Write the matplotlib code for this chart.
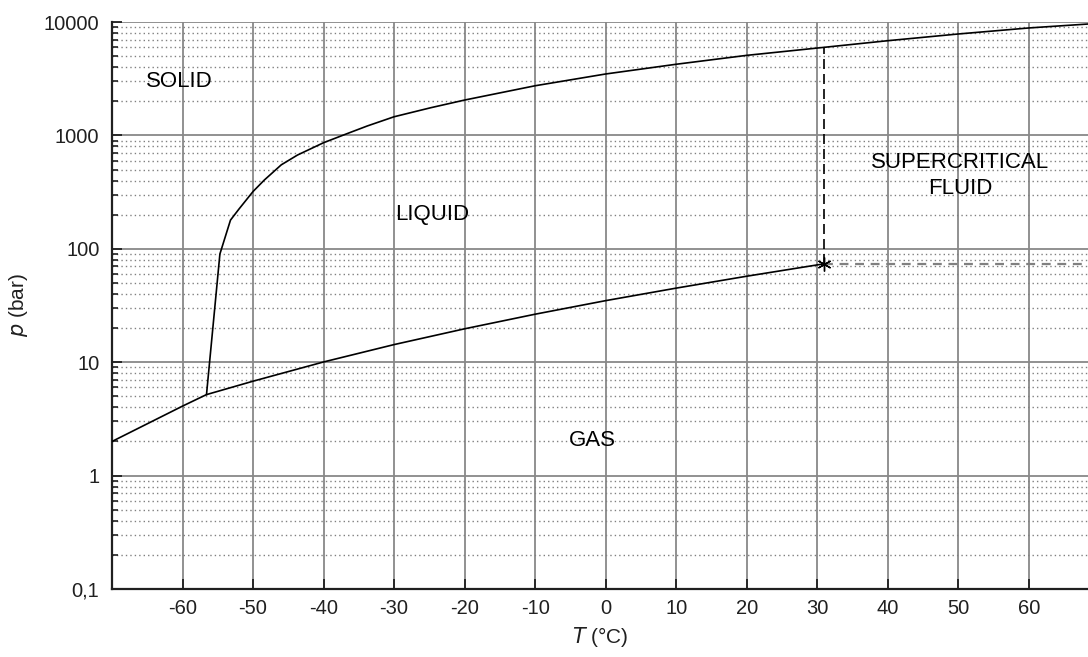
import matplotlib
matplotlib.use("Agg")
import matplotlib.pyplot as plt
from matplotlib.ticker import FixedLocator, LogLocator, NullFormatter

plt.rcParams['font.family'] = ['Liberation Sans', 'DejaVu Sans']

# phase boundaries (T in degC, p in bar)
vapor_T = [-70, -60, -56.6, -50, -40, -30, -20, -10, 0, 10, 20, 30, 31]
vapor_p = [2.0, 4.1, 5.18, 6.8, 10.05, 14.3, 19.7, 26.5, 34.9, 45.0, 57.3, 72.1, 73.8]

melt_T = [-56.6, -54.7, -53.2, -52.0, -50, -48.4, -46, -43.7, -40, -36.6, -33.8,
          -30, -24.8, -20, -10, 0, 10, 20, 31, 40, 50, 60, 68.4]
melt_p = [5.18, 90, 179, 224, 320, 404, 550, 671, 862, 1040, 1211,
          1460, 1754, 2050, 2740, 3480, 4240, 5080, 5980, 6840, 7840, 8860, 9600]

crit_T, crit_p = 31, 73.8
crit_melt_p = 5980

x_ticks = [-60, -50, -40, -30, -20, -10, 0, 10, 20, 30, 40, 50, 60]
y_ticks = [0.1, 1, 10, 100, 1000, 10000]
y_labels = ['0,1', '1', '10', '100', '1000', '10000']

regions = [('SOLID', -65.2, 3000, 'left'),
           ('LIQUID', -29.9, 200, 'left'),
           ('GAS', -5.2, 2.05, 'left'),
           ('SUPERCRITICAL\nFLUID', 50.3, 440, 'center')]

W, H = 1088, 657
fig = plt.figure(figsize=(W / 100, H / 100), dpi=100)
ax = fig.add_axes([112 / W, (H - 589) / H, (W - 112) / W, (589 - 22) / H])

ax.set_yscale('log')
ax.set_xlim(-70, 68.4)
ax.set_ylim(0.1, 10000)

# grid
ax.grid(True, which='major', color='#888888', linewidth=1.3, linestyle='-')
ax.yaxis.set_minor_locator(LogLocator(base=10, subs=range(2, 10)))
ax.yaxis.set_minor_formatter(NullFormatter())
ax.grid(True, which='minor', axis='y', color='#808080', linewidth=1.0, linestyle=(0, (1, 2.2)))
ax.set_axisbelow(True)

ax.plot(vapor_T, vapor_p, color='black', linewidth=1.2, zorder=3)
ax.plot(melt_T, melt_p, color='black', linewidth=1.2, zorder=3)

ax.plot([crit_T, crit_T], [crit_p, crit_melt_p], color='black', linewidth=1.2,
        linestyle=(0, (6, 3)), zorder=3)
ax.plot([crit_T, ax.get_xlim()[1]], [crit_p, crit_p], color='#808080', linewidth=1.6,
        linestyle=(0, (4, 3)), zorder=3)
ax.plot([crit_T], [crit_p], marker=(6, 2, 0), markersize=10, color='black',
        markeredgewidth=1.0, zorder=4)

for label, tx, ty, ha in regions:
    ax.text(tx, ty, label, ha=ha, va='center', fontsize=16, color='black',
            multialignment='center', linespacing=1.3, zorder=5)

ax.xaxis.set_major_locator(FixedLocator(x_ticks))
ax.set_xticklabels([str(t) for t in x_ticks])
ax.set_yticks(y_ticks)
ax.set_yticklabels(y_labels)
ax.set_ylim(0.1, 10000)

ax.tick_params(axis='both', which='major', direction='in', length=7, width=1.3,
               colors='#202020', labelsize=14.5, pad=9)
ax.tick_params(axis='x', which='major', pad=7.5)
ax.tick_params(axis='y', which='minor', direction='in', length=4.5, width=1.2, color='#202020')
ax.tick_params(axis='x', which='minor', bottom=False)

for side in ['top', 'right']:
    ax.spines[side].set_visible(False)
for side in ['left', 'bottom']:
    ax.spines[side].set_color('#202020')
    ax.spines[side].set_linewidth(1.6)

ax.set_xlabel('$T$ (°C)', fontsize=15, color='#202020', labelpad=5)
ax.set_ylabel('$p$ (bar)', fontsize=15, color='#202020', labelpad=10)

fig.savefig('out.png', dpi=100)
